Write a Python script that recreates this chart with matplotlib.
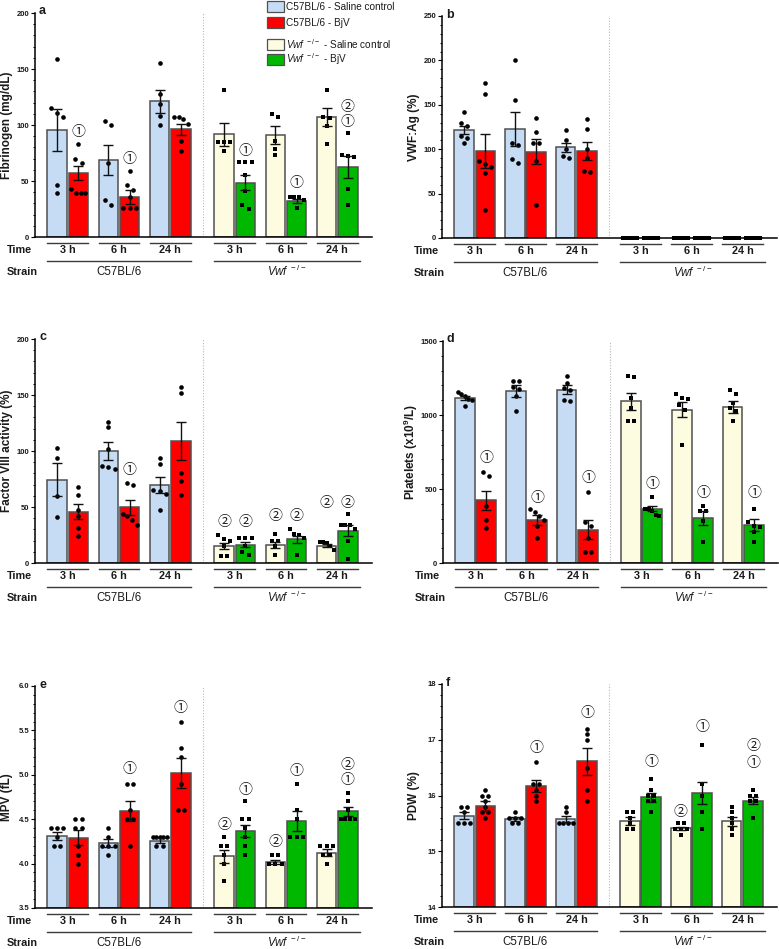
import matplotlib
matplotlib.use('Agg')
import matplotlib.pyplot as plt
import numpy as np
from matplotlib.patches import Rectangle
from matplotlib.lines import Line2D
from matplotlib.ticker import MultipleLocator, FormatStrFormatter

plt.rcParams['font.family'] = ['Liberation Sans', 'Noto Sans CJK JP', 'DejaVu Sans']
plt.rcParams['mathtext.fontset'] = 'custom'
plt.rcParams['mathtext.rm'] = 'Liberation Sans'
plt.rcParams['mathtext.it'] = 'Liberation Sans:italic'
plt.rcParams['mathtext.bf'] = 'Liberation Sans:bold'

# ---------------- data ----------------
groups = ['C57BL/6 - Saline control', 'C57BL/6 - BjV',
          r'$\mathit{Vwf}^{\ -/-}$ - Saline control', r'$\mathit{Vwf}^{\ -/-}$ - BjV']
times = ['3 h', '6 h', '24 h']
strains = ['C57BL/6', r'$\mathit{Vwf}^{\ -/-}$']
# bar order: C57 sal 3h, C57 BjV 3h, C57 sal 6h, C57 BjV 6h, C57 sal 24h, C57 BjV 24h, then Vwf same

fib_mean = [95.5, 57.3, 68.7, 35.8, 121.0, 96.0, 91.6, 48.4, 91.0, 32.2, 107.0, 62.7]
fib_sem = [19.0, 6.5, 13.3, 6.0, 10.0, 4.7, 10.4, 6.7, 7.7, 1.5, 8.0, 10.0]
fib_pts = [
    [159, 115, 111, 107, 46, 39],
    [83, 70, 66, 43, 39, 39, 39],
    [104, 100, 66, 33, 29],
    [59, 46, 42, 36, 26, 26, 26],
    [155, 128, 119, 108, 100],
    [107, 107, 105, 101, 86, 77],
    [131, 85, 85, 85, 77],
    [67, 67, 67, 55, 41, 29, 25],
    [110, 107, 86, 79, 73],
    [36, 36, 36, 33, 26],
    [131, 107, 106, 99, 83],
    [93, 73, 72, 71, 43, 29],
]
fib_sig = [(1, '①', 93.4), (3, '①', 69.5), (7, '①', 77), (9, '①', 47.8),
           (11, '②', 116.4), (11, '①', 103)]

vwf_mean = [121.6, 98.0, 122.7, 97.0, 102.0, 98.0, 0, 0, 0, 0, 0, 0]
vwf_sem = [4.5, 19.5, 18.8, 14.0, 5.0, 10.5, 0, 0, 0, 0, 0, 0]
vwf_pts = [
    [141.5, 129, 126, 115, 113, 107],
    [174, 162, 87, 83, 80, 73, 31],
    [200, 155, 107, 105, 89, 85],
    [135, 119, 107, 107, 87, 37.5],
    [122, 110, 100, 92, 90],
    [134, 123, 100, 90, 74, 75],
    [0, 0, 0, 0, 0, 0], [0, 0, 0, 0, 0, 0], [0, 0, 0, 0, 0, 0],
    [0, 0, 0, 0, 0, 0], [0, 0, 0, 0, 0, 0], [0, 0, 0, 0, 0, 0],
]
vwf_sig = []

f8_mean = [74.4, 45.8, 100.0, 49.7, 69.6, 108.6, 15.0, 16.4, 16.2, 21.0, 15.5, 29.0]
f8_sem = [14.7, 6.5, 8.0, 6.8, 7.4, 17.0, 2.6, 2.2, 2.8, 3.5, 1.3, 4.8]
f8_pts = [
    [103, 94, 60, 41],
    [68, 61, 47, 42, 31, 24],
    [126, 121, 102, 87, 86, 84],
    [71, 70, 44, 42, 38, 34],
    [94, 88, 65, 64, 62, 47],
    [157, 152, 80, 73, 61],
    [25, 21, 20, 15, 6, 6],
    [22, 22, 22, 15, 10, 7],
    [26, 20, 20, 15, 7],
    [30, 26, 25, 22, 7],
    [19, 18.5, 18, 15, 12],
    [44, 34, 34, 34, 30, 20, 4],
]
f8_sig = [(3, '①', 82.7), (6, '②', 37), (7, '②', 37), (8, '②', 41.7), (9, '②', 41.7),
          (10, '②', 53.6), (11, '②', 53.6)]

plt_mean = [1115, 423, 1160, 288, 1171, 225, 1092, 365, 1036, 304, 1054, 257]
plt_sem = [16, 63, 40, 33, 30, 63, 60, 17, 52, 45, 40, 43]
plt_pts = [
    [1155, 1144, 1126, 1110, 1100, 1058],
    [615, 590, 383, 293, 236],
    [1232, 1228, 1189, 1176, 1126, 1029],
    [365, 345, 320, 290, 250, 169],
    [1261, 1216, 1182, 1171, 1104, 1092],
    [480, 280, 250, 170, 75, 75],
    [1266, 1257, 1115, 1047, 957, 957],
    [446, 365, 365, 349, 327, 320],
    [1142, 1115, 1108, 1065, 1036, 800],
    [387, 353, 353, 286, 142],
    [1171, 1142, 1081, 1047, 1025, 957],
    [365, 279, 250, 243, 207, 142],
]
plt_sig = [(1, '①', 711), (3, '①', 441), (5, '①', 576), (7, '①', 532), (9, '①', 475), (11, '①', 471)]

mpv_mean = [4.31, 4.29, 4.23, 4.59, 4.26, 5.02, 4.08, 4.37, 4.02, 4.48, 4.12, 4.59]
mpv_sem = [0.045, 0.085, 0.045, 0.115, 0.025, 0.17, 0.075, 0.07, 0.025, 0.11, 0.04, 0.05]
mpv_pts = [
    [4.4, 4.4, 4.4, 4.3, 4.2, 4.2],
    [4.5, 4.5, 4.4, 4.4, 4.2, 4.1, 4.0],
    [4.4, 4.3, 4.2, 4.2, 4.2, 4.1],
    [4.9, 4.9, 4.6, 4.5, 4.5, 4.2],
    [4.3, 4.3, 4.3, 4.3, 4.3, 4.2, 4.2],
    [5.6, 5.3, 5.2, 4.9, 4.6, 4.6],
    [4.3, 4.2, 4.2, 4.1, 4.0, 3.8],
    [4.7, 4.5, 4.5, 4.4, 4.3, 4.2, 4.1],
    [4.1, 4.1, 4.0, 4.0, 4.0],
    [4.9, 4.6, 4.5, 4.3, 4.3, 4.3],
    [4.2, 4.2, 4.2, 4.1, 4.1, 4.0],
    [4.8, 4.7, 4.6, 4.5, 4.5, 4.5, 4.5],
]
mpv_sig = [(3, '①', 5.06), (5, '①', 5.75), (6, '②', 4.43), (7, '①', 4.83), (8, '②', 4.24),
           (9, '①', 5.04), (11, '②', 5.11), (11, '①', 4.94)]

pdw_mean = [15.64, 15.82, 15.58, 16.17, 15.58, 16.61, 15.54, 15.97, 15.41, 16.05, 15.54, 15.91]
pdw_sem = [0.06, 0.09, 0.03, 0.11, 0.06, 0.24, 0.07, 0.08, 0.03, 0.2, 0.08, 0.06]
pdw_pts = [
    [15.8, 15.8, 15.7, 15.5, 15.5, 15.5],
    [16.1, 16.0, 16.0, 15.9, 15.8, 15.7, 15.7, 15.6],
    [15.7, 15.6, 15.6, 15.6, 15.5, 15.5],
    [16.6, 16.2, 16.2, 16.1, 16.0, 15.9],
    [15.8, 15.7, 15.5, 15.5, 15.5, 15.5],
    [17.2, 17.1, 17.0, 16.5, 16.1, 15.9],
    [15.7, 15.7, 15.6, 15.5, 15.4, 15.4],
    [16.3, 16.1, 16.0, 16.0, 15.9, 15.9, 15.7],
    [15.5, 15.5, 15.4, 15.4, 15.4, 15.3],
    [16.9, 16.2, 16.0, 15.7, 15.4],
    [15.8, 15.7, 15.6, 15.5, 15.4, 15.3],
    [16.1, 16.0, 16.0, 15.9, 15.9, 15.6],
]
pdw_sig = [(3, '①', 16.86), (5, '①', 17.48), (7, '①', 16.6), (8, '②', 15.7), (9, '①', 17.22),
           (11, '②', 16.89), (11, '①', 16.58)]

# ---------------- style / layout ----------------
W, H, DPI = 779, 949, 100
colors = ['#c6dcf4', '#ff0000', '#fdfbe0', '#00b800']
edge = '#505050'
txt = '#1a1a1a'
pair_centers = [1.6, 4.1, 6.6, 9.75, 12.25, 14.75]
half = 0.52
barw = 0.95
XLIM = (0, 16.45)
DIV = 8.2

panels = [
    dict(letter='a', box=(35, 13, 372, 237), ylim=(0, 200), maj=50, mnr=10, fmt='%d', lab_off=27.5,
         ylabel='Fibrinogen (mg/dL)', mean=fib_mean, sem=fib_sem, pts=fib_pts, sig=fib_sig),
    dict(letter='b', box=(442, 16, 777, 238), ylim=(0, 250), maj=50, mnr=10, fmt='%d', lab_off=27.5,
         ylabel='VWF:Ag (%)', mean=vwf_mean, sem=vwf_sem, pts=vwf_pts, sig=vwf_sig),
    dict(letter='c', box=(35, 339, 372, 563), ylim=(0, 200), maj=50, mnr=10, fmt='%d', lab_off=27.5,
         ylabel='Factor VIII activity (%)', mean=f8_mean, sem=f8_sem, pts=f8_pts, sig=f8_sig),
    dict(letter='d', box=(443, 341, 778, 563), ylim=(0, 1500), maj=500, mnr=100, fmt='%d', lab_off=32,
         ylabel=r'Platelets (x10$^{\mathbf{9}}$/L)', mean=plt_mean, sem=plt_sem, pts=plt_pts, sig=plt_sig),
    dict(letter='e', box=(35, 686, 372, 908), ylim=(3.5, 6.0), maj=0.5, mnr=0.1, fmt='%.1f', lab_off=27.5,
         ylabel='MPV (fL)', mean=mpv_mean, sem=mpv_sem, pts=mpv_pts, sig=mpv_sig),
    dict(letter='f', box=(442, 684, 777, 907), ylim=(14, 18), maj=1, mnr=0.2, fmt='%d', lab_off=27.5,
         ylabel='PDW (%)', mean=pdw_mean, sem=pdw_sem, pts=pdw_pts, sig=pdw_sig),
]


def swarm_offsets(vals, ppx, ppy, md=5.0, barw_px=19.0):
    vals = np.asarray(vals, float)
    ypx = vals * ppy
    order = list(np.argsort(-ypx, kind='stable'))
    rows, cur = [], [order[0]]
    for a, b in zip(order[:-1], order[1:]):
        if ypx[a] - ypx[b] < md * 0.9:
            cur.append(b)
        else:
            rows.append(cur)
            cur = [b]
    rows.append(cur)
    off = np.zeros(len(vals))
    for r in rows:
        n = len(r)
        if n == 1:
            continue
        step = min(md * 1.25, (barw_px - md) / (n - 1))
        for j, idx in enumerate(r):
            off[idx] = (j - (n - 1) / 2) * step / ppx
    return off


fig = plt.figure(figsize=(W / DPI, H / DPI), dpi=DPI)
fig.patch.set_facecolor('white')

for p in panels:
    l, t, r, b = p['box']
    aw, ah = r - l, b - t
    ax = fig.add_axes([l / W, 1 - b / H, aw / W, ah / H])
    y0, y1 = p['ylim']
    ax.set_xlim(*XLIM)
    ax.set_ylim(y0, y1)
    ppx = aw / (XLIM[1] - XLIM[0])
    ppy = ah / (y1 - y0)
    for s in ['top', 'right']:
        ax.spines[s].set_visible(False)
    for s in ['left', 'bottom']:
        ax.spines[s].set_linewidth(1.1)
        ax.spines[s].set_color('black')
    ax.set_xticks([])
    ax.yaxis.set_major_locator(MultipleLocator(p['maj']))
    ax.yaxis.set_minor_locator(MultipleLocator(p['mnr']))
    ax.yaxis.set_major_formatter(FormatStrFormatter(p['fmt']))
    ax.tick_params(axis='y', which='major', length=3.0, width=0.8, pad=1, labelsize=5.5,
                   labelcolor=txt)
    ax.tick_params(axis='y', which='minor', length=1.6, width=0.7)
    for lab in ax.get_yticklabels():
        lab.set_fontweight('bold')

    ax.axvline(DIV, color='#b8b8b8', lw=0.8, ls=(0, (1, 1.5)), zorder=0)

    for i in range(12):
        s = i // 6
        k = i % 2
        x = pair_centers[i // 2] + (-half if k == 0 else half)
        col = colors[s * 2 + k]
        m = p['mean'][i]
        ax.bar(x, m - y0, bottom=y0, width=barw, color=col, edgecolor=edge,
               linewidth=1.1, zorder=2)
        vals = p['pts'][i]
        off = swarm_offsets(vals, ppx, ppy)
        mk = 'o' if s == 0 else 's'
        ax.scatter(x + off, vals, s=11 if mk == 'o' else 10, marker=mk, color='black',
                   linewidths=0, zorder=3, clip_on=False)
        if p['sem'][i] > 0:
            ax.errorbar(x, m, yerr=p['sem'][i], fmt='none', ecolor='#111111',
                        elinewidth=1.0, capsize=3.8, capthick=1.0, zorder=4)

    xc = lambda i: pair_centers[i // 2] + (-half if i % 2 == 0 else half)
    for (i, sym, yv) in p['sig']:
        ax.text(xc(i), yv, sym, ha='center', va='center', fontsize=10,
                family=['Noto Sans CJK JP', 'DejaVu Sans'], color=txt, zorder=5)

    # panel letter
    ax.text(4 / aw, 1 + 1.5 / ah, p['letter'], transform=ax.transAxes, ha='left',
            va='center', fontsize=9, fontweight='bold', color=txt)
    # y label
    ax.text(-p['lab_off'] / aw, 0.5, p['ylabel'], transform=ax.transAxes, rotation=90,
            ha='center', va='center', fontsize=8.5, fontweight='bold', color=txt)

    # time / strain rows
    tr = ax.get_xaxis_transform()
    yl1 = -6.3 / ah
    yt1 = -12.8 / ah
    yl2 = -24.3 / ah
    yt2 = -34.7 / ah
    for j, pc in enumerate(pair_centers):
        ax.add_line(Line2D([pc - half - barw / 2, pc + half + barw / 2], [yl1, yl1],
                           transform=tr, color='#3a3a3a', lw=1.0, clip_on=False))
        ax.text(pc, yt1, times[j % 3], transform=tr, ha='center', va='center',
                fontsize=7.8, fontweight='bold', color=txt)
    for sidx in range(2):
        a0 = pair_centers[sidx * 3] - half - barw / 2
        a1 = pair_centers[sidx * 3 + 2] + half + barw / 2 + (0.1 if sidx else 0)
        ax.add_line(Line2D([a0, a1], [yl2, yl2], transform=tr, color='#3a3a3a', lw=1.0,
                           clip_on=False))
        ax.text((a0 + a1) / 2, yt2, strains[sidx], transform=tr, ha='center', va='center',
                fontsize=8.3, color=txt)
    ax.text(-28 / aw, yt1, 'Time', transform=ax.transAxes, ha='left', va='center',
            fontsize=7.8, fontweight='bold', color=txt)
    ax.text(-28 / aw, yt2, 'Strain', transform=ax.transAxes, ha='left', va='center',
            fontsize=7.8, fontweight='bold', color=txt)

# legend (figure pixel coordinates)
leg_rows = [6.5, 22.8, 44.0, 59.5]
for gi, yc in enumerate(leg_rows):
    x0, w, h = 267, 16.5, 11
    fig.add_artist(Rectangle((x0 / W, 1 - (yc + h / 2) / H), w / W, h / H,
                             transform=fig.transFigure, facecolor=colors[gi],
                             edgecolor=edge, linewidth=0.9))
    fig.text(286 / W, 1 - yc / H, groups[gi], ha='left', va='center', fontsize=7.2,
             color=txt)

fig.savefig('out.png', dpi=DPI, facecolor='white')
